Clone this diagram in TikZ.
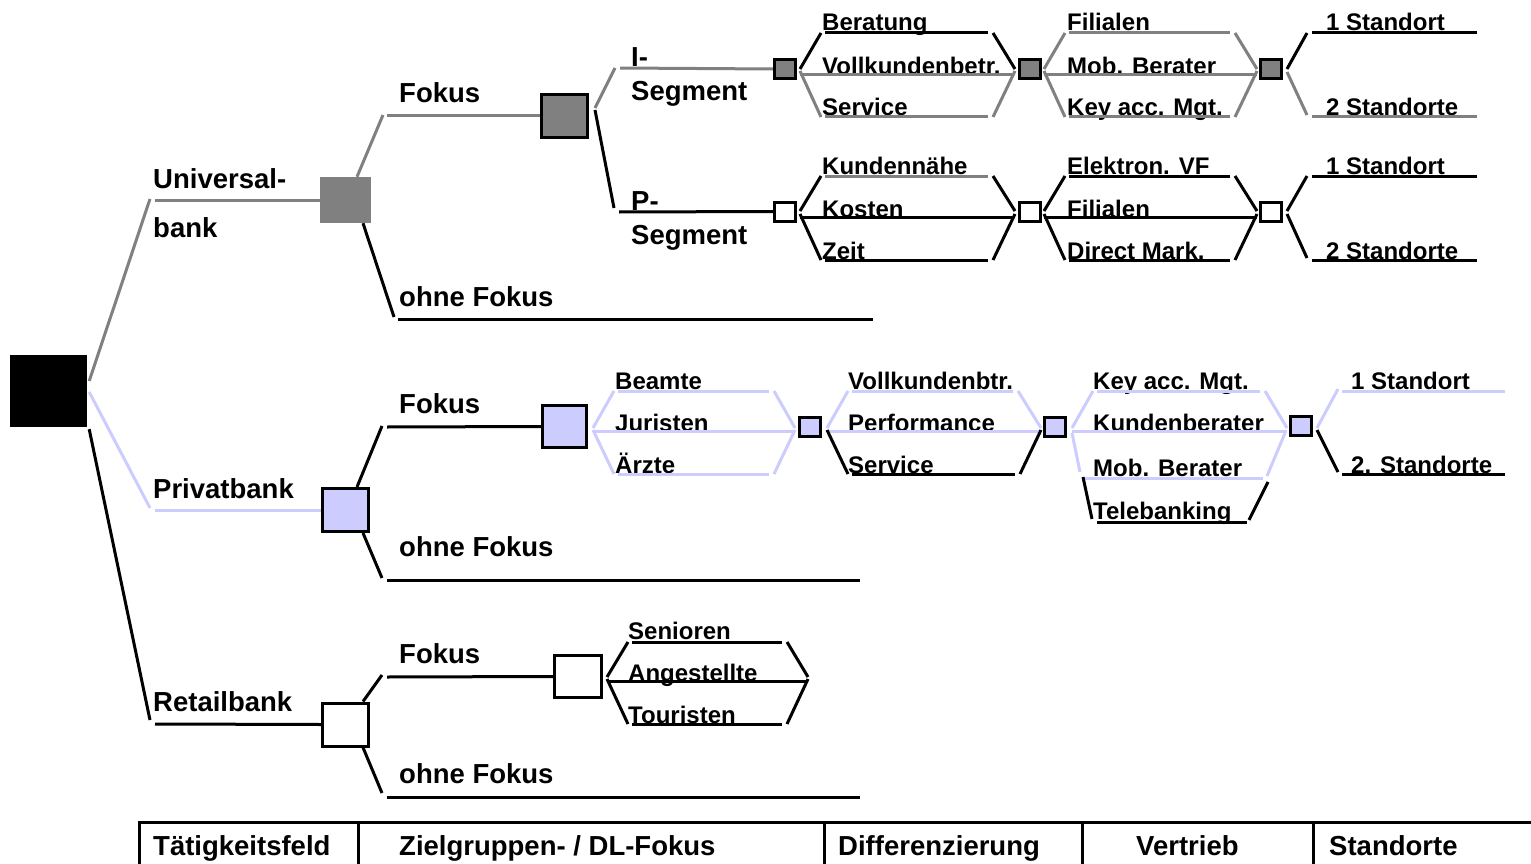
\documentclass[tikz,border=0pt]{standalone}
\usepackage{fontspec}
\setmainfont{Liberation Sans}
\definecolor{tgray}{HTML}{808080}
\definecolor{lav}{HTML}{CCCCFF}
\pgfdeclarelayer{txt}
\pgfdeclarelayer{lns}
\pgfsetlayers{txt,lns,main}
\tikzset{
  gl/.style={line width=3pt, draw=tgray},
  ll/.style={line width=3pt, draw=lav},
  bl/.style={line width=3pt, draw=black},
  big/.style={font=\fontsize{27.5}{33}\selectfont\bfseries, inner sep=0pt, anchor=base west},
  sml/.style={font=\fontsize{24}{28}\selectfont\bfseries, inner sep=0pt, anchor=base west},
  sbox/.style={draw=black, line width=3pt, inner sep=0pt, minimum width=21pt, minimum height=19pt},
  mbox/.style={draw=black, line width=3pt, inner sep=0pt, minimum width=46pt, minimum height=43pt},
}
% one option line: left slant, underline, right slant
% #1 left x, #2 right x, #3 box y, #4 underline y, #5 underline end, #6-#8 styles
\newcommand{\diagrow}[8]{%
  \draw[#6] (#1,#3) -- (#1+21,#4);
  \draw[#7] (#1+25,#4) -- (#5,#4);
  \draw[#8] (#5+5,#4) -- (#2,#3);}
\begin{document}
\begin{tikzpicture}[x=1pt,y=-1pt]
\useasboundingbox (0,0) rectangle (1531,864);

% decision boxes
\node[fill=black, minimum width=77pt, minimum height=72pt, inner sep=0pt] (root) at (48.5,391) {};
\node[fill=tgray, minimum width=51pt, minimum height=46pt, inner sep=0pt] (uni) at (345.5,200) {};
\node[mbox, fill=tgray] (ufok) at (564.5,116) {};
\node[sbox, fill=tgray] (iseg) at (785,69) {};
\node[sbox, fill=tgray] (idif) at (1029.5,69) {};
\node[sbox, fill=tgray] (iver) at (1271,69) {};
\node[sbox, fill=white] (pseg) at (785,211.5) {};
\node[sbox, fill=white] (pdif) at (1029.5,211.5) {};
\node[sbox, fill=white] (pver) at (1271,211.5) {};
\node[mbox, fill=lav] (priv) at (345.5,510) {};
\node[mbox, fill=lav, minimum width=44pt, minimum height=42pt] (pfok) at (564.5,426.5) {};
\node[sbox, fill=lav] (pzg) at (810,427) {};
\node[sbox, fill=lav] (pdf) at (1055,426.5) {};
\node[sbox, fill=lav] (pvt) at (1301,426) {};
\node[mbox, fill=white] (ret) at (345.5,724.5) {};
\node[mbox, fill=white, minimum width=47pt, minimum height=42pt] (rfok) at (578,676.5) {};

\begin{pgfonlayer}{txt}
% main branches
\node[big] (tuni1) at (153,188) {Universal-};
\node[big] (tuni2) at (153,237) {bank};
\node[big] (tufok) at (399,103) {Fokus};
\node[big] (tuohne) at (399,306) {ohne Fokus};
\node[big] (tiseg1) at (631,67) {I-};
\node[big] (tiseg2) at (631,101) {Segment};
\node[big] (tpseg1) at (631,210) {P-};
\node[big] (tpseg2) at (631,244) {Segment};
\node[big] (tpriv) at (153,498) {Privatbank};
\node[big] (tpfok) at (399,413) {Fokus};
\node[big] (tpohne) at (399,556) {ohne Fokus};
\node[big] (tret) at (153,711) {Retailbank};
\node[big] (trfok) at (399,663) {Fokus};
\node[big] (trohne) at (399,783) {ohne Fokus};
% options
\node[sml] (a1) at (822,31) {Beratung};
\node[sml] (a2) at (822,75) {Vollkundenbetr.};
\node[sml] (a3) at (822,116) {Service};
\node[sml] (b1) at (1067,31) {Filialen};
\node[sml] (b2) at (1067,75) {Mob. Berater};
\node[sml] (b3) at (1067,116) {Key acc. Mgt.};
\node[sml] (c1) at (1326,31) {1 Standort};
\node[sml] (c2) at (1326,116) {2 Standorte};
\node[sml] (d1) at (822,174) {Kundennähe};
\node[sml] (d2) at (822,217) {Kosten};
\node[sml] (d3) at (822,259) {Zeit};
\node[sml] (e1) at (1067,174) {Elektron. VF};
\node[sml] (e2) at (1067,217) {Filialen};
\node[sml] (e3) at (1067,259) {Direct Mark.};
\node[sml] (f1) at (1326,174) {1 Standort};
\node[sml] (f2) at (1326,259) {2 Standorte};
\node[sml] (g1) at (615,389) {Beamte};
\node[sml] (g2) at (615,431) {Juristen};
\node[sml] (g3) at (615,473) {Ärzte};
\node[sml] (h1) at (848,389) {Vollkundenbtr.};
\node[sml] (h2) at (848,431) {Performance};
\node[sml] (h3) at (848,473) {Service};
\node[sml] (k1) at (1093,389) {Key acc. Mgt.};
\node[sml] (k2) at (1093,431) {Kundenberater};
\node[sml] (k3) at (1093,476) {Mob. Berater};
\node[sml] (k4) at (1093,519) {Telebanking};
\node[sml] (m1) at (1351,389) {1 Standort};
\node[sml] (m2) at (1351,473) {2. Standorte};
\node[sml] (n1) at (628,639) {Senioren};
\node[sml] (n2) at (628,681) {Angestellte};
\node[sml] (n3) at (628,723) {Touristen};
% header row
\node[big] (h_t) at (153,855) {Tätigkeitsfeld};
\node[big] (h_z) at (399,855) {Zielgruppen- / DL-Fokus};
\node[big] (h_d) at (838,855) {Differenzierung};
\node[big] (h_v) at (1136,855) {Vertrieb};
\node[big] (h_s) at (1329,855) {Standorte};
\end{pgfonlayer}

\begin{pgfonlayer}{lns}
% from the root
\draw[gl] ([xshift=2pt,yshift=10pt]root.east) -- (150,199);
\draw[gl] (155,200) -- (uni.west);
\draw[ll] ([xshift=2pt,yshift=-1pt]root.east) -- (150,508);
\draw[ll] (155,510) -- (priv.west);
\draw[bl] ([xshift=2pt,yshift=-2pt]root.south east) -- (150,720);
\draw[bl] (155,724) -- (ret.west);
% Universalbank
\draw[gl] ([xshift=11.5pt]uni.north) -- (383,115);
\draw[gl] (387,116) -- (ufok.west);
\draw[bl] ([xshift=17.5pt]uni.south) -- (394,317);
\draw[bl] (398,319) -- (873,319);
\draw[gl] ([xshift=6pt,yshift=8pt]ufok.east) -- (615,68);
\draw[gl] (620,68) -- (iseg.west);
\draw[bl] ([xshift=6pt,yshift=6pt]ufok.east) -- (614,208);
\draw[bl] (619,212) -- (pseg.west);
% I-Segment
\diagrow{800}{1015}{69}{33}{988}{bl}{bl}{bl}
\draw[gl] (800,75) -- (1012,75);
\diagrow{800}{1015}{71}{117}{988}{gl}{gl}{gl}
\diagrow{1044}{1257}{69}{33}{1230}{gl}{gl}{gl}
\draw[gl] (1044,75) -- (1257,75);
\diagrow{1044}{1257}{71}{117}{1230}{gl}{gl}{gl}
\draw[bl] (1287,69) -- (1307,33);
\draw[bl] (1312,33) -- (1477,33);
\draw[gl] (1287,72) -- (1307,115);
\draw[gl] (1312,117) -- (1477,117);
% P-Segment
\diagrow{800}{1015}{211}{176}{988}{bl}{gl}{bl}
\draw[bl] (800,217) -- (1013,217);
\diagrow{800}{1015}{214}{260}{988}{bl}{bl}{bl}
\diagrow{1044}{1257}{211}{176}{1230}{bl}{bl}{bl}
\draw[bl] (1044,217) -- (1257,217);
\diagrow{1044}{1257}{214}{260}{1230}{bl}{bl}{bl}
\draw[bl] (1287,211) -- (1307,176);
\draw[bl] (1312,176) -- (1477,176);
\draw[bl] (1287,214) -- (1307,258);
\draw[bl] (1312,260) -- (1477,260);
% Privatbank
\draw[bl] ([xshift=11.5pt]priv.north) -- (382,426);
\draw[bl] (387,427) -- (pfok.west);
\draw[bl] ([xshift=17.5pt]priv.south) -- (382,578);
\draw[bl] (387,580) -- (860,580);
\diagrow{593}{795}{428}{391}{769}{ll}{ll}{ll}
\draw[ll] (593,431) -- (795,431);
\diagrow{593}{795}{430}{474}{769}{ll}{ll}{ll}
\diagrow{827}{1041}{428}{391}{1013}{ll}{ll}{ll}
\draw[ll] (827,431) -- (1041,431);
\diagrow{827}{1041}{430}{474}{1015}{bl}{bl}{bl}
\diagrow{1072}{1287}{428}{391}{1260}{ll}{ll}{ll}
\draw[ll] (1072,431) -- (1287,431);
\draw[ll] (1072,433) -- (1080,472);
\draw[ll] (1085,478) -- (1263,478);
\draw[ll] (1267,476) -- (1285,433);
\draw[bl] (1083,477) -- (1092,519);
\draw[bl] (1097,522) -- (1247,522);
\draw[bl] (1249,520) -- (1268,482);
\draw[ll] (1317,428) -- (1338,389);
\draw[ll] (1342,391) -- (1505,391);
\draw[bl] (1317,430) -- (1338,472);
\draw[bl] (1342,474) -- (1505,474);
% Retailbank
\draw[bl] ([xshift=17.5pt]ret.north) -- (382,675);
\draw[bl] (387,677) -- (rfok.west);
\draw[bl] ([xshift=17.5pt]ret.south) -- (382,793);
\draw[bl] (387,797) -- (860,797);
\diagrow{607}{808}{677}{642}{782}{bl}{bl}{bl}
\draw[bl] (607,681) -- (808,681);
\diagrow{607}{808}{679}{724}{782}{bl}{bl}{bl}
% header row frame
\draw[bl] (138,822) -- (1531,822);
\draw[bl] (139.5,822) -- (139.5,864);
\draw[bl] (358,822) -- (358,864);
\draw[bl] (824,822) -- (824,864);
\draw[bl] (1082,822) -- (1082,864);
\draw[bl] (1313,822) -- (1313,864);
\end{pgfonlayer}
\end{tikzpicture}
\end{document}
